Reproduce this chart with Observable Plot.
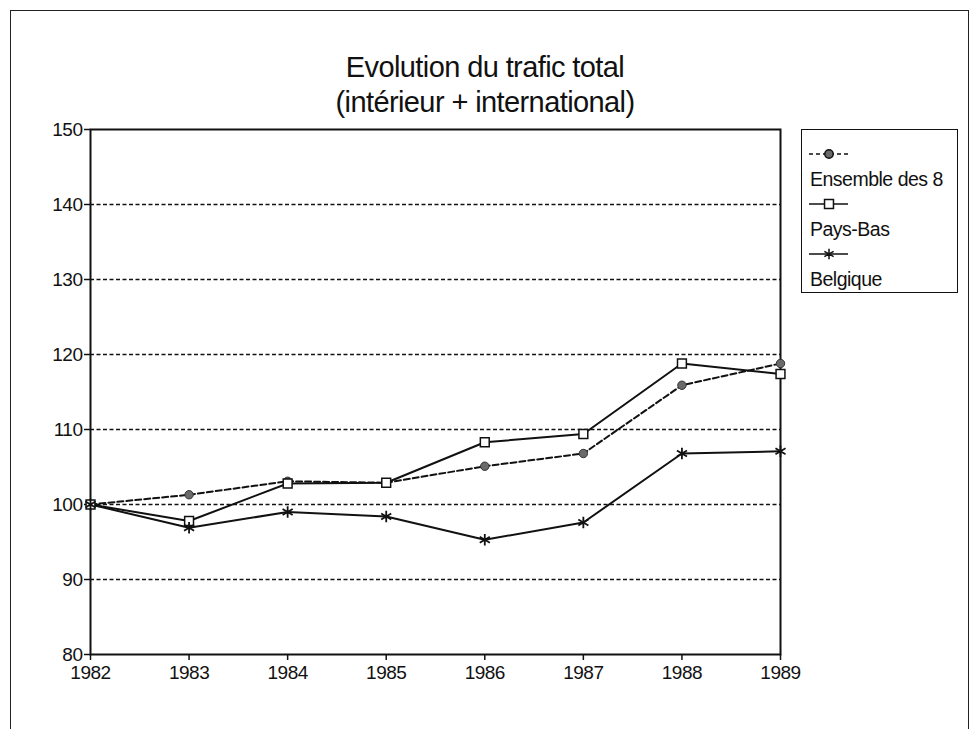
<!DOCTYPE html>
<html><head><meta charset="utf-8">
<script src="https://cdn.jsdelivr.net/npm/d3@7"></script>
<script src="https://cdn.jsdelivr.net/npm/@observablehq/plot@0.6"></script>
<style>
body{margin:0;background:#fff;width:972px;height:729px;position:relative;overflow:hidden;font-family:"Liberation Sans",Arial,sans-serif;color:#111}
#border{position:absolute;left:10px;top:10px;width:957px;height:740px;border:1.5px solid #222;}
#title{position:absolute;left:230px;width:510px;top:50px;text-align:center;font-size:29px;line-height:35px;letter-spacing:-0.6px;color:#111}
#chart{position:absolute;left:0;top:0}
#legend{position:absolute;left:801px;top:129px;width:155px;height:162px;border:1.5px solid #111;background:#fff}
</style></head><body>
<div id="border"></div>
<div id="chart"></div>
<div id="title">Evolution du trafic total<br>(intérieur + international)</div>
<div id="legend"></div>
<script>
const years = [1982, 1983, 1984, 1985, 1986, 1987, 1988, 1989];
const ensemble = [100, 101.3, 103.1, 102.9, 105.1, 106.8, 115.9, 118.8];
const paysBas = [100, 97.8, 102.8, 102.9, 108.3, 109.4, 118.8, 117.4];
const belgique = [100, 96.9, 99.0, 98.4, 95.3, 97.6, 106.8, 107.1];
const seriesNames = ["Ensemble des 8", "Pays-Bas", "Belgique"];
const yTicks = [80, 90, 100, 110, 120, 130, 140, 150];
const gridValues = [90, 100, 110, 120, 130, 140];

const font = '"Liberation Sans", Arial, sans-serif';
const rows = (vals) => years.map((y, i) => ({year: y, value: vals[i]}));
const ens = rows(ensemble), pb = rows(paysBas), be = rows(belgique);

const chart = Plot.plot({
  width: 972, height: 729,
  marginLeft: 90, marginRight: 192, marginTop: 129, marginBottom: 75,
  x: {domain: [1982, 1989]},
  y: {domain: [80, 150]},
  style: {fontFamily: font, fontSize: "19px", color: "#111", background: "transparent", overflow: "visible", letterSpacing: "-0.5px"},
  marks: [
    Plot.ruleY(gridValues, {stroke: "#111", strokeWidth: 1.6, strokeDasharray: "4,2.5"}),
    Plot.frame({stroke: "#111", strokeWidth: 2}),
    Plot.axisX({ticks: years, tickFormat: d => String(d), tickSize: 6, tickPadding: 5, label: null, fontSize: 19, strokeWidth: 1.5}),
    Plot.axisY({ticks: yTicks, tickSize: 6, tickPadding: 2, label: null, fontSize: 19, strokeWidth: 1.5}),
    Plot.line(ens, {x: "year", y: "value", stroke: "#111", strokeWidth: 2, strokeDasharray: "6,3"}),
    Plot.line(pb, {x: "year", y: "value", stroke: "#111", strokeWidth: 2}),
    Plot.line(be, {x: "year", y: "value", stroke: "#111", strokeWidth: 2}),
    Plot.dot(ens, {x: "year", y: "value", symbol: "circle", r: 4.2, fill: "#6a6a6a", stroke: "#333", strokeWidth: 1}),
    Plot.dot(pb, {x: "year", y: "value", symbol: "square", r: 5, fill: "white", stroke: "#111", strokeWidth: 1.5}),
    Plot.dot(be, {x: "year", y: "value", symbol: "asterisk", r: 5.5, stroke: "#111", strokeWidth: 1.8})
  ]
});
document.getElementById("chart").append(chart);

// legend
const lg = d3.select("#legend").append("svg").attr("width", 155).attr("height", 162)
  .style("font-family", font);
const styles = [
  {dash: "4,3", sym: "circle", fill: "#6a6a6a"},
  {dash: null, sym: "square", fill: "white"},
  {dash: null, sym: "asterisk", fill: "none"}
];
const symMap = {circle: d3.symbolCircle, square: d3.symbolSquare, asterisk: d3.symbolAsterisk};
seriesNames.forEach((name, i) => {
  const ym = 24 + i * 50;
  const s = styles[i];
  lg.append("line").attr("x1", 7).attr("x2", 46).attr("y1", ym).attr("y2", ym)
    .attr("stroke", "#111").attr("stroke-width", 1.6).attr("stroke-dasharray", s.dash);
  lg.append("path").attr("transform", `translate(27,${ym})`)
    .attr("d", d3.symbol(symMap[s.sym], s.sym === "circle" ? 55 : 80)())
    .attr("fill", s.fill).attr("stroke", "#111").attr("stroke-width", 1.5);
  lg.append("text").attr("x", 8).attr("y", ym + 25).attr("dy", "0.35em")
    .attr("font-size", 19.5).attr("letter-spacing", -0.5).attr("fill", "#111").text(name);
});
</script>
</body></html>
